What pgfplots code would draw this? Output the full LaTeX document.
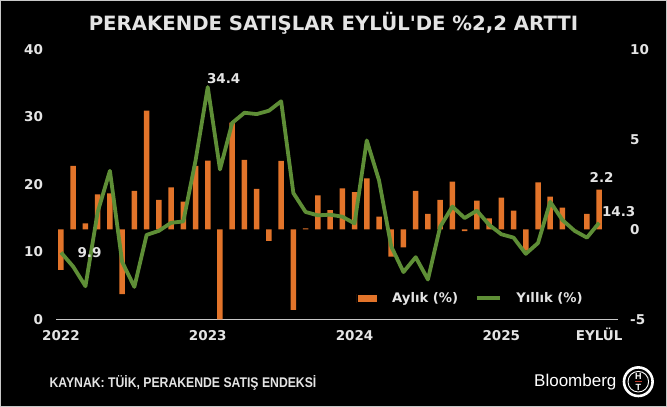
\documentclass[border=0pt]{standalone}
\usepackage{fontspec}
\setmainfont{DejaVu Sans}
\newfontfamily\libsans{Liberation Sans}
\usepackage{graphicx}
\usepackage{pgfplots}
\pgfplotsset{compat=1.18}
\usepackage{pgfplotstable}
\definecolor{barorange}{HTML}{F08A3C}
\definecolor{bardark}{HTML}{E2742A}
\definecolor{barlight}{HTML}{F8AE6A}
\definecolor{linegreen}{HTML}{5E8E36}
\definecolor{txtgray}{HTML}{E4E4E4}
\definecolor{axgray}{HTML}{C8C8C8}
\definecolor{redline}{HTML}{C0392B}

\pgfplotstableread{
i aylik yillik
0 -2.26 9.9
1 3.52 7.8
2 0.33 4.9
3 1.94 15.9
4 2.00 22.0
5 -3.60 8.5
6 2.13 4.8
7 6.59 12.5
8 1.63 13.1
9 2.33 14.3
10 1.54 14.5
11 3.52 23.5
12 3.81 34.4
13 -5.00 22.2
14 5.93 29.1
15 3.85 30.6
16 2.24 30.4
17 -0.65 30.9
18 3.80 32.3
19 -4.48 18.7
20 0.05 15.9
21 1.89 15.4
22 1.07 15.5
23 2.28 15.2
24 2.07 14.2
25 2.83 26.5
26 0.70 20.6
27 -1.52 10.8
28 -1.00 7.0
29 2.13 9.2
30 0.85 5.9
31 1.63 13.7
32 2.65 16.7
33 -0.10 15.0
34 1.59 16.1
35 0.61 14.0
36 1.76 12.6
37 1.04 12.1
38 -1.19 9.7
39 2.61 11.3
40 1.81 17.4
41 1.20 14.7
42 0.00 13.1
43 0.85 12.1
44 2.20 14.3
}\datatab

\pgfplotsset{
  barlegend/.style={legend image code/.code={\fill[left color=bardark, middle color=barlight, right color=bardark] (0pt,-4.15pt) rectangle (20.6pt,4.15pt);}},
  linelegend/.style={legend image code/.code={\draw[linegreen, line width=3.8pt] (0pt,0pt) -- (23.3pt,0pt);}},
}

\begin{document}
\begin{tikzpicture}
\useasboundingbox (0,0) rectangle (667pt,407pt);
\fill[black] (0,0) rectangle (667pt,407pt);
\draw[axgray, line width=1.2pt] (0.6pt,0.6pt) rectangle (666.4pt,406.4pt);

\pgfplotsset{common/.style={
  scale only axis, width=561.4pt, height=270pt,
  at={(56.1pt,87.7pt)}, anchor=south west,
  xmin=-0.4, xmax=45.5,
  clip=false,
  major tick length=0pt,
  tick style={draw=none},
  /pgf/number format/assume math mode=true,
  ticklabel style={font=\fontsize{13.5}{14}\selectfont\bfseries, text=txtgray, inner sep=0pt},
}}

\begin{axis}[common,
  ymin=-5, ymax=10,
  axis x line*=bottom, axis y line*=right,
  x axis line style={-, draw=axgray, line width=1.5pt},
  y axis line style={draw=none},
  ytick={-5,0,5,10},
  yticklabel style={anchor=west, xshift=12.5pt},
  xtick={0,12,24,36,44},
  xticklabels={2022,2023,2024,2025,EYLÜL},
  xticklabel style={anchor=base, yshift=-21pt},
  ybar, bar width=5.5pt,
]
\addplot[draw=none, left color=bardark, middle color=barlight, right color=bardark] table[x=i, y=aylik] {\datatab};
\node[font=\fontsize{13.5}{14}\selectfont\bfseries, text=txtgray, inner sep=0pt] at (axis cs:44.2,2.89) {2.2};
\end{axis}

\begin{axis}[common,
  ymin=0, ymax=40,
  hide x axis,
  axis y line*=left,
  y axis line style={draw=none},
  ytick={0,10,20,30,40},
  yticklabel style={anchor=east, xshift=-13pt},
  legend columns=2,
  legend style={at={(0.5355,0.0778)}, anchor=west, draw=none, fill=none,
    inner sep=0pt, outer sep=0pt,
    font=\fontsize{13.2}{14}\selectfont\bfseries, text=txtgray,
    nodes={inner sep=0pt},
    /tikz/every odd column/.append style={column sep=14.4pt},
    /tikz/every even column/.append style={column sep=16.7pt}},
  legend cell align=left,
]
\addlegendimage{barlegend}
\addlegendentry{Aylık (\%)}
\addplot[linegreen, line width=3.8pt, line join=round, linelegend] table[x=i, y=yillik] {\datatab};
\addlegendentry{Yıllık (\%)}
\node[font=\fontsize{13.5}{14}\selectfont\bfseries, text=txtgray, inner sep=0pt] at (axis cs:2.33,9.87) {9.9};
\node[font=\fontsize{13.5}{14}\selectfont\bfseries, text=txtgray, inner sep=0pt] at (axis cs:13.3,35.7) {34.4};
\node[font=\fontsize{13.5}{14}\selectfont\bfseries, text=txtgray, inner sep=0pt] at (axis cs:45.6,15.94) {14.3};
\end{axis}

\node[anchor=base, inner sep=0pt, text=txtgray, font=\fontsize{19.7}{20}\selectfont\bfseries] at (333.5pt,376pt) {PERAKENDE SATIŞLAR EYLÜL\textquotesingle DE \%2,2 ARTTI};
\node[anchor=base west, inner sep=0pt, text=txtgray, font=\libsans\bfseries\fontsize{14}{15}\selectfont] at (49.3pt,19.3pt) {\scalebox{0.873}[1]{KAYNAK: TÜİK, PERAKENDE SATIŞ ENDEKSİ}};
\node[anchor=base west, inner sep=0pt, text=white, font=\libsans\fontsize{17}{18}\selectfont] at (534pt,20.3pt) {Bloomberg};
\draw[white, line width=2.6pt] (638.3pt,25.3pt) circle (14.3pt);
\draw[white, line width=0.9pt] (638.3pt,25.3pt) circle (10.3pt);
\node[font=\libsans\bfseries\fontsize{9}{9}\selectfont, text=white, inner sep=0pt] at (638.3pt,30.3pt) {H};
\node[font=\libsans\bfseries\fontsize{9}{9}\selectfont, text=white, inner sep=0pt] at (638.3pt,20.0pt) {T};
\fill[redline] (634.6pt,24.6pt) rectangle (642pt,26pt);
\end{tikzpicture}
\end{document}
